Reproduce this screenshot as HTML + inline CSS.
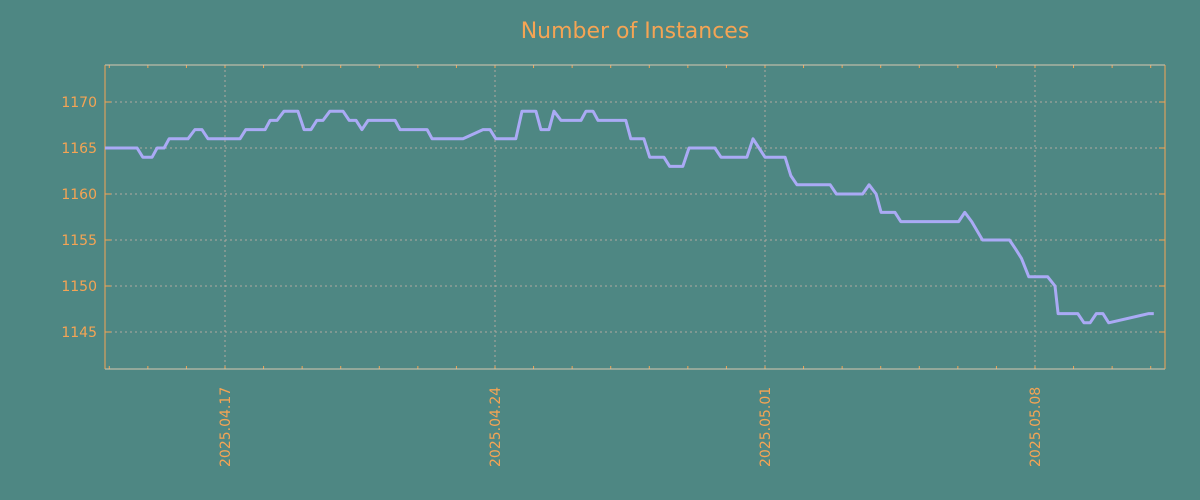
<!DOCTYPE html>
<html><head><meta charset="utf-8"><style>
body{margin:0;background:#4e8783;}
svg{display:block;font-family:"DejaVu Sans","Liberation Sans",sans-serif;}
</style></head><body>
<svg id="chart" width="1200" height="500" viewBox="0 0 1200 500">
<rect width="1200" height="500" fill="#4e8783"/>
<text x="635" y="38" text-anchor="middle" font-size="22" fill="#f5a454">Number of Instances</text>
<g id="grid"></g><g id="axes"></g><g id="series"></g>
</svg>
<script>
// day offsets from 2025-04-17
const days=[-3.11,-2.28,-2.13,-1.89,-1.76,-1.58,-1.45,-0.96,-0.78,-0.60,-0.44,0.39,0.54,1.04,1.17,1.35,1.53,1.89,2.05,2.23,2.38,2.54,2.72,3.06,3.22,3.40,3.55,3.71,4.41,4.54,5.24,5.37,6.17,6.69,6.87,7.02,7.54,7.70,8.06,8.19,8.40,8.53,8.71,9.23,9.36,9.54,9.67,10.39,10.52,10.86,11.01,11.38,11.53,11.87,12.03,12.70,12.86,13.53,13.69,14.00,14.52,14.67,14.83,15.69,15.85,16.53,16.70,16.88,17.01,17.37,17.52,19.02,19.18,19.36,19.64,20.34,20.50,20.65,20.84,21.33,21.52,21.60,22.11,22.27,22.43,22.59,22.76,22.91,23.95,24.08];
const values=[1165,1165,1164,1164,1165,1165,1166,1166,1167,1167,1166,1166,1167,1167,1168,1168,1169,1169,1167,1167,1168,1168,1169,1169,1168,1168,1167,1168,1168,1167,1167,1166,1166,1167,1167,1166,1166,1169,1169,1167,1167,1169,1168,1168,1169,1169,1168,1168,1166,1166,1164,1164,1163,1163,1165,1165,1164,1164,1166,1164,1164,1162,1161,1161,1160,1160,1161,1160,1158,1158,1157,1157,1158,1157,1155,1155,1154,1153,1151,1151,1150,1147,1147,1146,1146,1147,1147,1146,1147,1147,1146];
const yTicks=[1145,1150,1155,1160,1165,1170];
const xTickDays=[0,7,14,21];
const xTickLabels=["2025.04.17","2025.04.24","2025.05.01","2025.05.08"];
const L=105,R=1165,T=65,B=369;
const X=d=>225+d*38.571, Y=v=>332-(v-1145)*9.2;
const NS="http://www.w3.org/2000/svg";
function mk(tag,attrs,parent){const e=document.createElementNS(NS,tag);for(const k in attrs)e.setAttribute(k,attrs[k]);document.getElementById(parent).appendChild(e);return e;}
yTicks.forEach(v=>{
 const g=mk('line',{x1:L,x2:R,y1:Y(v),y2:Y(v),stroke:'#b0a8a0','stroke-dasharray':'2,3','stroke-width':1},'grid');
 
 
 const t1=mk('line',{x1:L,x2:L+6,y1:Y(v),y2:Y(v),stroke:'#f5a454'},'axes');
 
 
 const t2=mk('line',{x1:R-6,x2:R,y1:Y(v),y2:Y(v),stroke:'#f5a454'},'axes');
 
 
 const tx=mk('text',{x:L-8,y:Y(v)+5,'text-anchor':'end','font-size':14,fill:'#f5a454'},'axes');
 tx.textContent=v;
 
 
});
for(let d=-3;d<=24;d++){
 const x=X(d); if(x<L||x>R) continue;
 const m=mk('line',{x1:x,x2:x,y1:B,y2:B-3,stroke:'#f5a454'},'axes');
 
 
 const m2=mk('line',{x1:x,x2:x,y1:T,y2:T+3,stroke:'#f5a454'},'axes');
 
 
}
xTickDays.forEach((d,i)=>{
 const x=X(d);
 const g=mk('line',{x1:x,x2:x,y1:T,y2:B,stroke:'#b0a8a0','stroke-dasharray':'2,3'},'grid');
 
 
 const tx=mk('text',{x:0,y:0,transform:`translate(${x+5},${B+98}) rotate(-90)`,'text-anchor':'start','font-size':14,fill:'#f5a454'},'axes');
 tx.textContent=xTickLabels[i];
 
 
});
const f1=mk('line',{x1:L,x2:R,y1:T,y2:T,stroke:'#d8c8b0'},'axes');


const f2=mk('line',{x1:L,x2:R,y1:B,y2:B,stroke:'#d8c8b0'},'axes');


const f3=mk('line',{x1:L,x2:L,y1:T,y2:B,stroke:'#f5a454'},'axes');


const f4=mk('line',{x1:R,x2:R,y1:T,y2:B,stroke:'#f5a454'},'axes');


const pts=days.map((d,i)=>X(d).toFixed(1)+','+Y(values[i]).toFixed(1)).join(' ');
const pl=mk('polyline',{points:pts,fill:'none',stroke:'#aaaaf5','stroke-width':3,'stroke-linejoin':'round'},'series');


</script>
</body></html>
